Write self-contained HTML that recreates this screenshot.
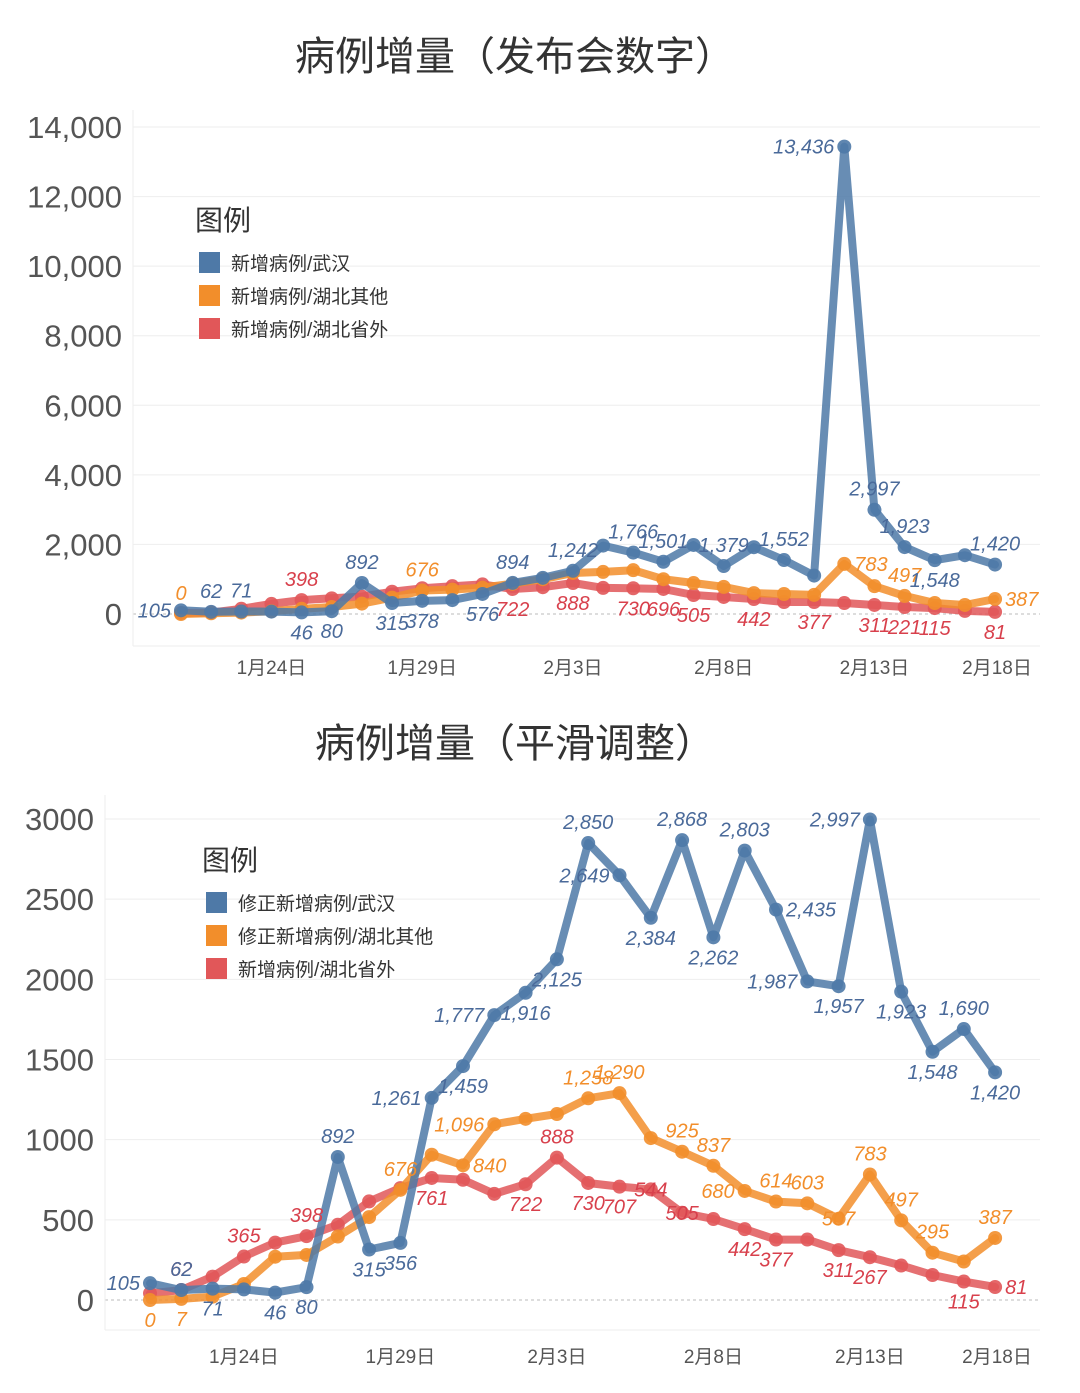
<!DOCTYPE html>
<html><head><meta charset="utf-8">
<style>
html,body{margin:0;padding:0;background:#fff;}
svg{display:block;font-family:"Liberation Sans","Noto Sans CJK SC",sans-serif;}
</style></head>
<body>
<svg id="chart" width="1080" height="1393" viewBox="0 0 1080 1393" xmlns="http://www.w3.org/2000/svg">
<rect x="0" y="0" width="1080" height="1393" fill="#fff"/>
<text x="515" y="70" font-size="40" fill="#333" text-anchor="middle" font-family="'Liberation Sans','Noto Sans CJK SC',sans-serif">病例增量（发布会数字）</text>
<text x="515" y="757" font-size="40" fill="#333" text-anchor="middle" font-family="'Liberation Sans','Noto Sans CJK SC',sans-serif">病例增量（平滑调整）</text>
<g id="top"></g>
<g id="bottom"></g>
</svg>
<script>
// ---------- data: top chart (announced numbers) ----------
const topWuhan = [105,62,71,70,46,80,892,315,378,400,576,894,1040,1242,1967,1766,1501,1985,1379,1920,1552,1104,13436,2997,1923,1548,1690,1420];
const topOther = [0,20,40,80,150,200,300,470,676,700,760,870,1000,1180,1210,1260,1000,890,780,600,575,550,1440,800,520,316,260,430];
const topOutside = [30,40,150,290,400,450,500,640,740,800,850,720,770,890,750,740,720,545,490,430,345,345,315,260,200,170,90,60];
const topWuhanLabels = ["105","62","71","","46","80","892","315","378","","576","894","","1,242","","1,766","1,501","","1,379","","1,552","","13,436","2,997","1,923","1,548","","1,420"];
const topOtherLabels = ["0","","","","","","","","676","","","","","","","","","","","","","","783","","497","","","387"];
const topOutsideLabels = ["","","","","398","","","","","","","722","","888","","730","696","505","","442","","377","","311","221","115","","81"];
const topTickValues = [0,2000,4000,6000,8000,10000,12000,14000];
const topTickLabels = ["0","2,000","4,000","6,000","8,000","10,000","12,000","14,000"];
// ---------- data: bottom chart (smoothed) ----------
const botWuhan = [105,62,71,66,46,80,892,315,356,1261,1459,1777,1916,2125,2850,2649,2384,2868,2262,2803,2435,1987,1957,2997,1923,1548,1690,1420];
const botOther = [0,7,21,100,270,281,396,517,687,906,840,1096,1130,1160,1258,1290,1010,925,837,680,614,603,507,783,497,295,240,387];
const botOutside = [42,62,146,271,358,398,469,615,698,761,750,662,722,888,730,707,690,544,505,442,377,377,311,267,215,156,115,81];
const botWuhanLabels = ["105","62","71","","46","80","892","315","356","1,261","1,459","1,777","1,916","2,125","2,850","2,649","2,384","2,868","2,262","2,803","2,435","1,987","1,957","2,997","1,923","1,548","1,690","1,420"];
const botOtherLabels = ["0","7","","","","","","","676","","840","1,096","","","1,258","1,290","","925","837","680","614","603","507","783","497","295","","387"];
const botOutsideLabels = ["","62","","365","","398","","","","761","","","722","888","730","707","544","505","","442","377","","311","267","","","115","81"];
const botTickValues = [0,500,1000,1500,2000,2500,3000];
const botTickLabels = ["0","500","1000","1500","2000","2500","3000"];
// shared x axis
const xTickIndex = [3,8,13,18,23,28];
const xTickLabels = ["1月24日","1月29日","2月3日","2月8日","2月13日","2月18日"];

// label placements (a=above,b=below,l=left,r=right,c=center)
const topWuhanPos = ["l","a","a","","b","b","a","b","b","","b","a","","a","","a","a","","a","","a","","l","a","a","b","","a"];
const topOtherPos = ["a","","","","","","","","a","","","","","","","","","","","","","","r","","a","","","r"];
const topOutsidePos = ["","","","","a","","","","","","","b","","b","","b","b","b","","b","","b","","b","b","b","","b"];
const botWuhanPos = ["l","a","b","","b","b","a","b","b","l","b","l","b","b","a","l","b","a","b","a","r","l","b","l","b","b","a","b"];
const botOtherPos = ["b","b","","","","","","","a","","r","l","","","a","a","","a","a","l","a","a","c","a","a","a","","a"];
const botOutsidePos = ["","a","","a","","a","","","","b","","","b","a","b","b","c","c","","b","b","","b","b","","","b","r"];

const NS="http://www.w3.org/2000/svg";
const COL={blue:"#4e79a7",orange:"#f28e2b",red:"#e15759"};
const TXT={blue:"#4a6a9a",orange:"#f28e2b",red:"#d8404c"};
function mk(tag,attrs,parent){const e=document.createElementNS(NS,tag);for(const k in attrs)e.setAttribute(k,attrs[k]);parent.appendChild(e);return e;}

function drawChart(g,cfg){
  const sx=i=>cfg.x0+i*cfg.dx;
  const sy=v=>cfg.y0-(v-0)*cfg.ky;
  // gridlines & y ticks
  cfg.ticks.forEach((t,k)=>{
    const y=sy(t);
    const gl=mk("line",{x1:cfg.plotL,x2:1040,y1:y,y2:y,stroke:t===0?"#bbb":"#eee","stroke-width":1,"stroke-dasharray":t===0?"3,3":"none"},g);
    
    
    const tl=mk("text",{x:cfg.tickX,y:y+11,"font-size":31,fill:"#555","text-anchor":"end"},g);
    tl.textContent=cfg.tickLabels[k];
    
    
  });
  // plot frame lines
  const fl=mk("line",{x1:cfg.plotL,x2:cfg.plotL,y1:cfg.plotT,y2:cfg.plotB,stroke:"#eee","stroke-width":1},g);
  
  
  const fb=mk("line",{x1:cfg.plotL,x2:1040,y1:cfg.plotB,y2:cfg.plotB,stroke:"#eee","stroke-width":1},g);
  
  
  // x ticks
  xTickIndex.forEach((ix,k)=>{
    let x=Math.min(sx(ix),997);
    const t=mk("text",{x:x,y:cfg.xLabelY,"font-size":19,fill:"#555","text-anchor":"middle"},g);
    t.textContent=xTickLabels[k];
    
    
  });
  // series: red, orange, blue
  cfg.series.forEach(s=>{
    const sg=mk("g",{},g);
    
    
    const pts=s.vals.map((v,i)=>sx(i).toFixed(1)+","+sy(v).toFixed(1)).join(" ");
    const pl=mk("polyline",{points:pts,fill:"none",stroke:COL[s.c],"stroke-width":8,"stroke-linejoin":"round","stroke-linecap":"round",opacity:0.85},sg);
    
    
    s.vals.forEach((v,i)=>{
      const c=mk("circle",{cx:sx(i),cy:sy(v),r:7,fill:COL[s.c],opacity:0.9},sg);
      
      
    });
  });
  cfg.series.forEach(s=>{
    s.vals.forEach((v,i)=>{
      const lab=s.labels[i]; if(!lab) return;
      const p=s.pos[i]||"a";
      let x=sx(i),y=sy(v),anc="middle";
      if(p==="a"){y-=14;} else if(p==="b"){y+=27;} else if(p==="l"){x-=10;y+=7;anc="end";} else if(p==="r"){x+=10;y+=7;anc="start";} else {y+=7;}
      const t=mk("text",{x:x,y:y,"font-size":20,"font-style":"italic",fill:TXT[s.c],"text-anchor":anc},g);
      t.textContent=lab;
      
      
    });
  });
  // legend
  const lg=mk("g",{},g);
  
  
  const lt=mk("text",{x:cfg.legX-4,y:cfg.legY,"font-size":28,fill:"#333"},lg);
  lt.textContent="图例";
  
  
  cfg.legend.forEach((l,k)=>{
    const y=cfg.legY+22+k*33;
    const r=mk("rect",{x:cfg.legX,y:y,width:21,height:21,fill:COL[l.c]},lg);
    
    
    const t=mk("text",{x:cfg.legX+32,y:y+18,"font-size":19,fill:"#333"},lg);
    t.textContent=l.t;
    
    
  });
}

drawChart(document.getElementById("top"),{
  x0:181,dx:30.15,y0:614,ky:487/14000,plotL:133,plotT:110,plotB:646,tickX:122,xLabelY:674,
  ticks:topTickValues,tickLabels:topTickLabels,legX:199,legY:230,
  series:[
    {name:"outside-hubei-series",c:"red",vals:topOutside,labels:topOutsideLabels,pos:topOutsidePos},
    {name:"hubei-other-series",c:"orange",vals:topOther,labels:topOtherLabels,pos:topOtherPos},
    {name:"wuhan-series",c:"blue",vals:topWuhan,labels:topWuhanLabels,pos:topWuhanPos}
  ],
  legend:[{c:"blue",t:"新增病例/武汉"},{c:"orange",t:"新增病例/湖北其他"},{c:"red",t:"新增病例/湖北省外"}]
});
drawChart(document.getElementById("bottom"),{
  x0:150,dx:31.3,y0:1300,ky:481/3000,plotL:105,plotT:795,plotB:1330,tickX:94,xLabelY:1363,
  ticks:botTickValues,tickLabels:botTickLabels,legX:206,legY:870,
  series:[
    {name:"outside-hubei-series",c:"red",vals:botOutside,labels:botOutsideLabels,pos:botOutsidePos},
    {name:"hubei-other-series",c:"orange",vals:botOther,labels:botOtherLabels,pos:botOtherPos},
    {name:"wuhan-series",c:"blue",vals:botWuhan,labels:botWuhanLabels,pos:botWuhanPos}
  ],
  legend:[{c:"blue",t:"修正新增病例/武汉"},{c:"orange",t:"修正新增病例/湖北其他"},{c:"red",t:"新增病例/湖北省外"}]
});
</script>
</body></html>
